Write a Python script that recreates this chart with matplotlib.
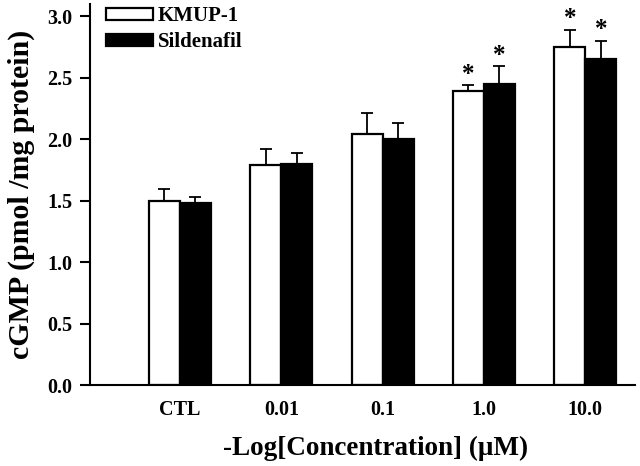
"""
cGMP levels: KMUP-1 vs Sildenafil grouped bar chart.
"""

import matplotlib
matplotlib.use("Agg")
import matplotlib.pyplot as plt
import numpy as np

# Data
groups = ["CTL", "0.01", "0.1", "1.0", "10.0"]
kmup_mean = [1.50, 1.79, 2.04, 2.39, 2.75]
kmup_err = [0.09, 0.13, 0.17, 0.05, 0.14]
sild_mean = [1.48, 1.80, 2.00, 2.45, 2.65]
sild_err = [0.05, 0.09, 0.13, 0.14, 0.15]
kmup_sig = [False, False, False, True, True]
sild_sig = [False, False, False, True, True]

plt.rcParams['font.family'] = ['Liberation Serif', 'DejaVu Serif']
plt.rcParams['font.weight'] = 'bold'

fig = plt.figure(figsize=(6.4, 4.66), dpi=100)
ax = fig.add_axes([0.1406, 0.1738, 0.8514, 0.8182])

x = np.arange(len(groups))
w = 0.306

ax.bar(x - w / 2, kmup_mean, w, color='white', edgecolor='black',
       linewidth=1.6, label='KMUP-1', zorder=2)
ax.bar(x + w / 2, sild_mean, w, color='black', edgecolor='black',
       linewidth=1.6, label='Sildenafil', zorder=2)

# upper error bars only
ax.errorbar(x - w / 2, kmup_mean, yerr=[np.zeros(len(x)), kmup_err],
            fmt='none', ecolor='black', elinewidth=1.3, capsize=4,
            capthick=1.3, zorder=1)
ax.errorbar(x + w / 2, sild_mean, yerr=[np.zeros(len(x)), sild_err],
            fmt='none', ecolor='black', elinewidth=1.3, capsize=4,
            capthick=1.3, zorder=1)

# significance stars
for i in range(len(groups)):
    if kmup_sig[i]:
        ax.text(x[i] - w / 2, kmup_mean[i] + kmup_err[i] - 0.005, '*',
                ha='center', va='bottom', fontsize=18, fontweight='bold')
    if sild_sig[i]:
        ax.text(x[i] + w / 2, sild_mean[i] + sild_err[i] - 0.005, '*',
                ha='center', va='bottom', fontsize=18, fontweight='bold')

ax.set_xlim(-0.888, 4.49)
ax.set_ylim(0, 3.1)
ax.set_yticks([0.0, 0.5, 1.0, 1.5, 2.0, 2.5, 3.0])
ax.set_yticklabels(['0.0', '0.5', '1.0', '1.5', '2.0', '2.5', '3.0'])
ax.set_xticks(x)
ax.set_xticklabels(groups)

ax.tick_params(axis='y', direction='out', length=7, width=1.5,
               labelsize=14.5, pad=5.5)
ax.tick_params(axis='x', length=0, labelsize=14.5, pad=10.5)

for side in ['top', 'right']:
    ax.spines[side].set_visible(False)
for side in ['left', 'bottom']:
    ax.spines[side].set_linewidth(1.5)

ax.set_xlabel('-Log[Concentration] (\u03bcM)', fontsize=19.5,
              fontweight='bold', labelpad=12)
ax.xaxis.label.set_x(0.525)
ax.set_ylabel('cGMP (pmol /mg protein)', fontsize=21.5,
              fontweight='bold', labelpad=9)

ax.legend(loc='upper left', bbox_to_anchor=(106 / 640, 1 - 6 / 466),
          bbox_transform=fig.transFigure, frameon=False, fontsize=15,
          handlelength=2.26, handleheight=0.5, handletextpad=0.24,
          labelspacing=0.3, borderpad=0, borderaxespad=0)

fig.savefig('out.png', dpi=100, facecolor='white')
